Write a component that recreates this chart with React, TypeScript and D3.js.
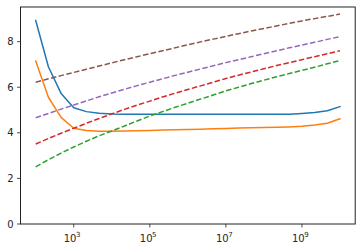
import React from "react";
import * as d3 from "d3";

const exponents: number[] = d3.range(25).map((k) => 2 + k / 3);
const xValues: number[] = exponents.map((e) => Math.pow(10, e));

const seriesBlue: number[] = [8.93, 6.9, 5.73, 5.1, 4.93, 4.86, 4.83, 4.82, 4.81, 4.81, 4.81, 4.81, 4.81, 4.81, 4.81, 4.81, 4.81, 4.81, 4.81, 4.81, 4.82, 4.85, 4.89, 4.97, 5.15];
const seriesOrange: number[] = [7.15, 5.56, 4.68, 4.2, 4.1, 4.07, 4.07, 4.08, 4.09, 4.1, 4.12, 4.13, 4.15, 4.16, 4.18, 4.19, 4.21, 4.22, 4.23, 4.24, 4.26, 4.29, 4.34, 4.42, 4.62];
const seriesGreen: number[] = [2.51, 2.82, 3.11, 3.38, 3.63, 3.87, 4.08, 4.3, 4.52, 4.74, 4.93, 5.12, 5.3, 5.48, 5.66, 5.84, 6.0, 6.16, 6.31, 6.46, 6.6, 6.74, 6.88, 7.03, 7.17];
const seriesRed: number[] = [3.51, 3.75, 3.98, 4.2, 4.42, 4.63, 4.83, 5.03, 5.22, 5.39, 5.57, 5.74, 5.9, 6.06, 6.22, 6.38, 6.53, 6.67, 6.81, 6.95, 7.08, 7.21, 7.34, 7.47, 7.6];
const seriesPurple: number[] = [4.66, 4.85, 5.04, 5.22, 5.4, 5.58, 5.75, 5.91, 6.07, 6.22, 6.37, 6.52, 6.66, 6.8, 6.94, 7.08, 7.21, 7.34, 7.47, 7.6, 7.73, 7.85, 7.97, 8.1, 8.22];
const seriesBrown: number[] = [6.22, 6.37, 6.51, 6.65, 6.79, 6.93, 7.07, 7.21, 7.34, 7.47, 7.6, 7.73, 7.86, 7.99, 8.11, 8.23, 8.35, 8.47, 8.58, 8.69, 8.8, 8.91, 9.01, 9.11, 9.21];

const xTickExps: number[] = [3, 5, 7, 9];
const yTicks: number[] = [0, 2, 4, 6, 8];

const seriesList = [
  { values: seriesBlue, color: "#1f77b4", dashed: false },
  { values: seriesOrange, color: "#ff7f0e", dashed: false },
  { values: seriesGreen, color: "#2ca02c", dashed: true },
  { values: seriesRed, color: "#d62728", dashed: true },
  { values: seriesPurple, color: "#9467bd", dashed: true },
  { values: seriesBrown, color: "#8c564b", dashed: true },
];

export default function App() {
  const W = 362;
  const H = 252;
  const left = 20.5;
  const right = 355.2;
  const top = 7;
  const bottom = 224;

  const x = d3
    .scaleLog()
    .domain([Math.pow(10, 1.6), Math.pow(10, 10.4)])
    .range([left, right]);
  const y = d3.scaleLinear().domain([0, 9.52]).range([bottom, top]);

  const line = d3
    .line<number>()
    .x((_, i) => x(xValues[i]))
    .y((d) => y(d));

  const font = "DejaVu Sans, sans-serif";
  const textColor = "#262626";

  return (
    <svg
      width={W}
      height={H}
      style={{ position: "absolute", left: 0, top: 0, background: "#fff" }}
    >
      <rect x={0} y={0} width={W} height={H} fill="#fff" />
      <defs>
        <clipPath id="plotclip">
          <rect x={left} y={top} width={right - left} height={bottom - top} />
        </clipPath>
      </defs>
      <g clipPath="url(#plotclip)">
        {seriesList.map((s, i) => (
          <path
            key={i}
            d={line(s.values) || ""}
            fill="none"
            stroke={s.color}
            strokeWidth={1.5}
            strokeDasharray={s.dashed ? "5.5,2.4" : undefined}
            strokeLinejoin="round"
            strokeLinecap={s.dashed ? "butt" : "square"}
          />
        ))}
      </g>
      {/* spines */}
      <rect
        x={left}
        y={top}
        width={right - left}
        height={bottom - top}
        fill="none"
        stroke="#222"
        strokeWidth={1}
      />
      {/* y ticks */}
      {yTicks.map((t) => (
        <g key={"y" + t}>
          <line
            x1={left - 3.5}
            x2={left}
            y1={y(t)}
            y2={y(t)}
            stroke="#222"
            strokeWidth={0.8}
          />
          <text
            x={left - 7}
            y={y(t)}
            dy="0.36em"
            textAnchor="end"
            fontFamily={font}
            fontSize={10}
            fill={textColor}
          >
            {t}
          </text>
        </g>
      ))}
      {/* x ticks */}
      {xTickExps.map((e) => {
        const px = x(Math.pow(10, e));
        return (
          <g key={"x" + e}>
            <line
              x1={px}
              x2={px}
              y1={bottom}
              y2={bottom + 3.5}
              stroke="#222"
              strokeWidth={0.8}
            />
            <text
              x={px - 10}
              y={241.7}
              textAnchor="start"
              fontFamily={font}
              fontSize={10}
              fill={textColor}
            >
              10
            </text>
            <text
              x={px + 2.3}
              y={237.2}
              textAnchor="start"
              fontFamily={font}
              fontSize={7}
              fill={textColor}
            >
              {e}
            </text>
          </g>
        );
      })}
    </svg>
  );
}
